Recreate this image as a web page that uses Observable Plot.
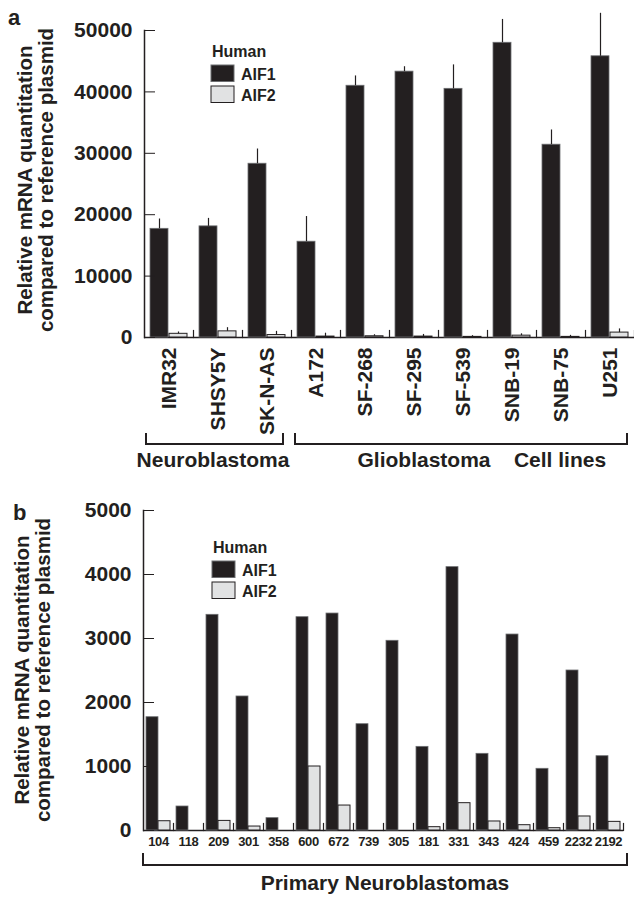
<!DOCTYPE html>
<html><head><meta charset="utf-8">
<script src="https://cdn.jsdelivr.net/npm/d3@7"></script>
<script src="https://cdn.jsdelivr.net/npm/@observablehq/plot@0.6"></script>
<style>
body{margin:0;background:#fff;}
#root{position:relative;width:634px;height:897px;overflow:hidden}
#root svg{display:block}
</style></head><body><div id="root"></div>
<script>
// ---- data ----
const cellLines = ["IMR32","SHSY5Y","SK-N-AS","A172","SF-268","SF-295","SF-539","SNB-19","SNB-75","U251"];
const cellAIF1 = [17700,18100,28300,15600,41000,43300,40500,48000,31400,45800];
const cellAIF1Upper = [19300,19400,30700,19700,42600,44100,44400,51800,33800,52800];
const cellAIF2 = [600,1000,400,150,200,150,100,300,100,800];
const cellAIF2Upper = [900,1600,1000,700,450,500,300,600,350,1400];
const tumours = ["104","118","209","301","358","600","672","739","305","181","331","343","424","459","2232","2192"];
const tumAIF1 = [1770,375,3370,2094,193,3333,3390,1661,2964,1307,4115,1198,3062,964,2500,1161];
const tumAIF2 = [145,0,150,62,0,1000,390,0,0,52,427,141,83,36,219,135];
const series = ["AIF1","AIF2"];
const seriesFill = ["#231f20","#e1e2e3"];
const seriesStroke = ["#6d6e71","#231f20"];
const yTicksA = [0,10000,20000,30000,40000,50000];
const yTicksB = [0,1000,2000,3000,4000,5000];
const yTitle = ["Relative mRNA quantitation","compared to reference plasmid"];
const legendTitle = "Human";
const bracketsA = [["IMR32","SK-N-AS"],["A172","U251"]];
const groupLabelsA = ["Neuroblastoma","Glioblastoma","Cell lines"];
const groupLabelB = "Primary Neuroblastomas";

const ink = "#231f20";
const FONT = "'Liberation Sans', Arial, Helvetica, sans-serif";

const rowsA = cellLines.flatMap((g,i)=>[
  {group:g, series:"AIF1", value:cellAIF1[i], upper:cellAIF1Upper[i]},
  {group:g, series:"AIF2", value:cellAIF2[i], upper:cellAIF2Upper[i]}]);
const rowsB = tumours.flatMap((g,i)=>[
  {group:g, series:"AIF1", value:tumAIF1[i]},
  {group:g, series:"AIF2", value:tumAIF2[i]}]);

function panel({rows, groups, yDomain, yTicks, height, mT, mB, mR, xPadInner, xPadOuter, fxAxis, errors}) {
  const plotH = height - mT - mB;
  return Plot.plot({
    width: 634, height,
    marginLeft: 143, marginRight: mR, marginTop: mT, marginBottom: mB,
    style: {fontFamily: FONT, fontWeight: "bold", color: ink, background: "white", overflow: "visible"},
    fx: {domain: groups, padding: 0, label: null},
    x: {domain: series, paddingInner: xPadInner, paddingOuter: xPadOuter, axis: null},
    y: {domain: yDomain, label: null},
    color: {domain: series, range: seriesFill},
    marks: [
      Plot.ruleY([0], {stroke: ink, strokeWidth: 1.5}),
      Plot.frame({anchor: "right", insetTop: plotH - 7, stroke: ink, strokeWidth: 1.2}),
      Plot.barY(rows.filter(d=>d.series==="AIF1"), {fx:"group", x:"series", y:"value", fill:"series", stroke: seriesStroke[0], strokeWidth: 0.8}),
      Plot.barY(rows.filter(d=>d.series==="AIF2"), {fx:"group", x:"series", y:"value", fill:"series", stroke: seriesStroke[1], strokeWidth: 1}),
      errors ? Plot.ruleX(rows, {fx:"group", x:"series", y1:"value", y2:"upper", stroke: ink, strokeWidth: 1.2}) : null,
      Plot.frame({anchor: "left", facet: "super", stroke: ink, strokeWidth: 1.5}),
      Plot.axisY({ticks: yTicks, tickSize: -11, tickPadding: 23, fontSize: 21, tickFormat: d => String(d), label: null, stroke: ink}),
      fxAxis
    ]
  });
}

const root = document.getElementById("root");

const plotA = panel({rows: rowsA, groups: cellLines, yDomain: [0,50000], yTicks: yTicksA, height: 480, mT: 30, mB: 143, mR: 0,
  xPadInner: 0.075, xPadOuter: 0.27, errors: true,
  fxAxis: Plot.axisFx({anchor: "bottom", tickRotate: -90, tickSize: 0, tickPadding: 10, fontSize: 21, label: null})});
const plotB = panel({rows: rowsB, groups: tumours, yDomain: [0,5000], yTicks: yTicksB, height: 417, mT: 30, mB: 67, mR: 11,
  xPadInner: 0, xPadOuter: 0.25, errors: false,
  fxAxis: Plot.axisFx({anchor: "bottom", tickSize: 0, tickPadding: 6, fontSize: 13, label: null})});
root.append(plotA, plotB);
d3.select(plotB).selectAll('g[aria-label="fx-axis tick label"] text').attr("letter-spacing", "-0.4");

function decorate(plot, {letter, letterPos, titleX, titleCY, legendPos, brackets, labels}) {
  const svg = d3.select(plot);
  const fx = plot.scale("fx");
  const txt = (x, y, s, size, anchor="start") => svg.append("text").attr("x", x).attr("y", y)
    .attr("font-family", FONT).attr("font-weight", "bold").attr("font-size", size)
    .attr("fill", ink).attr("text-anchor", anchor).text(s);
  txt(letterPos[0], letterPos[1], letter, 22);
  yTitle.forEach((s, i) => txt(0, 0, s, 20.5, "middle")
    .attr("transform", `translate(${titleX[i]},${titleCY}) rotate(-90)`));
  // legend
  const [lx, ly] = legendPos;
  txt(lx + 1, ly, legendTitle, 16);
  series.forEach((s, i) => {
    svg.append("rect").attr("x", lx).attr("y", ly + 8 + i * 21).attr("width", 23).attr("height", 16.5)
      .attr("fill", seriesFill[i]).attr("stroke", seriesStroke[i]).attr("stroke-width", 1);
    txt(lx + 30, ly + 23 + i * 21, s, 16);
  });
  brackets.forEach(({from, to, insetL, insetR, y, h}) => {
    const x1 = fx.apply(from) + insetL, x2 = fx.apply(to) + fx.bandwidth - insetR;
    svg.append("path").attr("d", `M${x1},${y - h}V${y}H${x2}V${y - h}`)
      .attr("fill", "none").attr("stroke", ink).attr("stroke-width", 2);
  });
  labels.forEach(({text, x, y}) => txt(x, y, text, 21, "middle"));
}

decorate(plotA, {letter: "a", letterPos: [8, 25], titleX: [32, 53], titleCY: 180, legendPos: [211, 57],
  brackets: [
    {from: bracketsA[0][0], to: bracketsA[0][1], insetL: 2, insetR: 8, y: 444, h: 11},
    {from: bracketsA[1][0], to: bracketsA[1][1], insetL: 4, insetR: 7, y: 444, h: 11}],
  labels: [{text: groupLabelsA[0], x: 213, y: 467}, {text: groupLabelsA[1], x: 424, y: 467}, {text: groupLabelsA[2], x: 560, y: 467}]});
decorate(plotB, {letter: "b", letterPos: [13, 40], titleX: [29, 50], titleCY: 190, legendPos: [212, 73],
  brackets: [{from: tumours[0], to: tumours[tumours.length - 1], insetL: 0, insetR: -4, y: 385, h: 12}],
  labels: [{text: groupLabelB, x: 385, y: 410}]});
</script></body></html>
